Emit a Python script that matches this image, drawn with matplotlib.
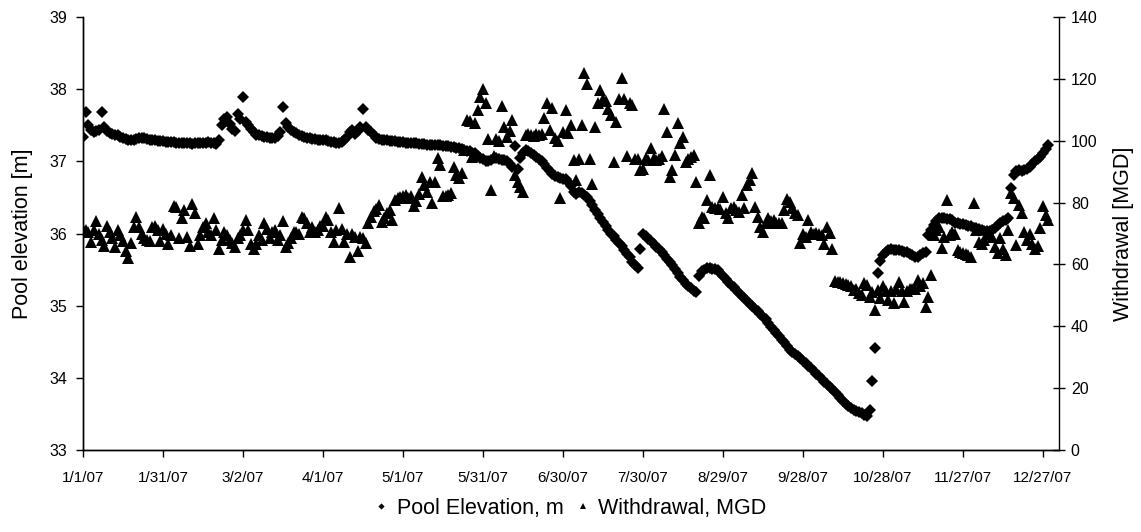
import numpy as np
import pandas as pd
import matplotlib
matplotlib.use("Agg")
from matplotlib import pyplot as plt

plt.rcParams['font.family'] = ['Liberation Sans', 'DejaVu Sans']

START = "2007-01-01"

# daily pool elevation, m (one row = 15 days)
pool_elev = [
    37.34, 37.69, 37.50, 37.44, 37.41, 37.42, 37.43, 37.69, 37.48, 37.42, 37.39, 37.38, 37.37, 37.36, 37.34,
    37.32, 37.31, 37.30, 37.30, 37.30, 37.31, 37.32, 37.33, 37.32, 37.31, 37.30, 37.30, 37.29, 37.28, 37.28,
    37.28, 37.27, 37.27, 37.27, 37.27, 37.26, 37.26, 37.26, 37.26, 37.25, 37.25, 37.24, 37.25, 37.26, 37.26,
    37.26, 37.26, 37.27, 37.26, 37.25, 37.24, 37.30, 37.50, 37.58, 37.62, 37.52, 37.45, 37.42, 37.66, 37.58,
    37.89, 37.55, 37.50, 37.45, 37.40, 37.37, 37.36, 37.35, 37.34, 37.34, 37.33, 37.33, 37.32, 37.35, 37.40,
    37.76, 37.53, 37.48, 37.44, 37.41, 37.39, 37.37, 37.35, 37.34, 37.33, 37.32, 37.31, 37.31, 37.30, 37.30,
    37.29, 37.29, 37.28, 37.27, 37.27, 37.26, 37.26, 37.27, 37.30, 37.34, 37.40, 37.44, 37.38, 37.42, 37.47,
    37.73, 37.48, 37.44, 37.40, 37.36, 37.33, 37.31, 37.30, 37.29, 37.29, 37.28, 37.28, 37.28, 37.27, 37.27,
    37.27, 37.26, 37.26, 37.25, 37.25, 37.25, 37.24, 37.24, 37.24, 37.23, 37.23, 37.23, 37.22, 37.22, 37.22,
    37.21, 37.21, 37.21, 37.20, 37.20, 37.19, 37.18, 37.17, 37.16, 37.15, 37.14, 37.12, 37.11, 37.08, 37.05,
    37.03, 37.01, 37.00, 37.02, 37.04, 37.04, 37.03, 37.02, 37.02, 37.00, 36.97, 36.92, 37.21, 36.90, 37.05,
    37.12, 37.16, 37.15, 37.12, 37.09, 37.06, 37.03, 37.00, 36.96, 36.91, 36.87, 36.83, 36.80, 36.78, 36.77,
    36.76, 36.75, 36.72, 36.66, 36.58, 36.55, 36.57, 36.56, 36.53, 36.50, 36.45, 36.39, 36.33, 36.27, 36.22,
    36.16, 36.10, 36.05, 36.00, 35.96, 35.91, 35.87, 35.83, 35.77, 35.72, 35.67, 35.61, 35.56, 35.52, 35.78,
    35.99, 35.97, 35.93, 35.90, 35.86, 35.82, 35.78, 35.74, 35.70, 35.65, 35.60, 35.56, 35.51, 35.45, 35.40,
    35.36, 35.30, 35.27, 35.24, 35.21, 35.19, 35.41, 35.48, 35.50, 35.52, 35.52, 35.51, 35.51, 35.50, 35.45,
    35.41, 35.37, 35.33, 35.29, 35.26, 35.22, 35.18, 35.14, 35.11, 35.07, 35.03, 35.00, 34.96, 34.92, 34.88,
    34.85, 34.81, 34.76, 34.71, 34.67, 34.62, 34.58, 34.53, 34.49, 34.44, 34.39, 34.36, 34.33, 34.30, 34.27,
    34.24, 34.21, 34.17, 34.14, 34.10, 34.06, 34.02, 33.98, 33.94, 33.91, 33.88, 33.84, 33.80, 33.76, 33.72,
    33.68, 33.64, 33.61, 33.58, 33.56, 33.54, 33.52, 33.51, 33.49, 33.47, 33.55, 33.95, 34.42, 35.45, 35.62,
    35.70, 35.74, 35.77, 35.78, 35.77, 35.77, 35.77, 35.76, 35.75, 35.74, 35.72, 35.70, 35.68, 35.67, 35.70,
    35.73, 35.74, 35.98, 36.05, 36.12, 36.17, 36.21, 36.22, 36.21, 36.20, 36.20, 36.19, 36.15, 36.14, 36.13,
    36.13, 36.12, 36.11, 36.10, 36.08, 36.07, 36.06, 36.05, 36.04, 36.03, 36.03, 36.05, 36.08, 36.12, 36.15,
    36.17, 36.19, 36.21, 36.63, 36.81, 36.86, 36.88, 36.87, 36.88, 36.89, 36.92, 36.96, 37.00, 37.03, 37.06,
    37.12, 37.17, 37.23,
]

# daily withdrawal, MGD
withdrawal = [
    71.5, 71.0, 70.5, 67.3, 71.0, 74.0, 70.0, 68.0, 66.0, 72.5, 70.5, 68.5, 65.5, 71.0, 69.5,
    67.5, 64.5, 62.0, 67.0, 72.0, 75.5, 72.0, 70.0, 68.5, 68.0, 67.5, 72.0, 72.5, 71.0, 67.5,
    71.5, 70.0, 66.5, 69.5, 79.0, 78.5, 68.5, 75.0, 77.5, 69.0, 66.0, 79.5, 76.5, 66.5, 69.5,
    72.0, 73.5, 70.5, 69.5, 75.0, 71.0, 65.0, 68.0, 70.5, 69.5, 68.0, 67.0, 65.5, 68.5, 69.5,
    71.0, 74.5, 71.0, 66.5, 65.0, 66.5, 69.5, 68.0, 73.5, 71.5, 68.5, 70.5, 71.0, 68.0, 69.5,
    74.0, 65.5, 66.8, 68.5, 70.5, 70.5, 70.0, 75.5, 75.0, 73.5, 70.5, 72.0, 70.5, 71.0, 72.5,
    72.3, 75.4, 74.4, 70.6, 67.4, 71.0, 78.2, 71.6, 67.4, 70.0, 62.5, 70.0, 68.9, 64.5, 69.0,
    68.5, 66.8, 73.4, 75.4, 77.2, 78.0, 79.2, 73.8, 74.9, 76.5, 77.6, 74.4, 80.8, 81.5, 81.9,
    82.0, 82.5, 81.5, 82.0, 79.0, 80.5, 82.9, 88.4, 85.6, 83.4, 86.7, 79.9, 86.7, 94.3, 92.2,
    82.0, 82.0, 82.5, 83.0, 91.6, 88.9, 87.8, 89.5, 97.0, 106.7, 106.5, 94.8, 105.6, 109.9, 114.2,
    116.6, 112.1, 100.5, 84.0, 95.2, 100.5, 100.0, 111.2, 104.5, 101.2, 103.0, 106.8, 88.9, 86.7, 85.1,
    83.4, 102.0, 102.3, 102.0, 101.5, 102.3, 101.8, 102.3, 107.2, 112.1, 103.5, 110.5, 100.9, 100.0, 81.5,
    102.9, 109.8, 102.5, 105.1, 93.9, 87.3, 94.0, 105.1, 121.8, 118.5, 94.0, 85.9, 104.3, 112.3, 116.4,
    113.4, 113.0, 110.2, 108.3, 93.1, 106.2, 113.4, 120.2, 113.4, 95.2, 112.3, 111.5, 94.2, 94.2, 90.5,
    91.0, 94.5, 93.8, 97.6, 94.5, 93.8, 94.0, 95.0, 110.4, 102.9, 88.4, 90.5, 95.5, 105.6, 99.2,
    101.3, 93.1, 94.0, 94.8, 95.5, 86.6, 73.3, 75.4, 74.9, 80.8, 88.9, 78.5, 78.3, 78.2, 78.0,
    81.9, 76.5, 74.9, 78.2, 78.5, 77.5, 77.0, 82.4, 78.2, 85.7, 87.3, 89.7, 78.5, 75.2, 72.2,
    70.6, 73.3, 74.9, 74.0, 74.3, 73.5, 73.3, 73.3, 77.6, 81.3, 80.3, 78.2, 76.5, 76.0, 67.0,
    70.0, 69.0, 74.3, 70.6, 70.0, 70.2, 70.0, 69.5, 66.7, 72.2, 70.1, 65.0, 54.5, 54.3, 54.2,
    54.0, 53.8, 53.5, 53.0, 51.7, 52.0, 50.7, 50.2, 53.9, 53.5, 49.4, 51.0, 45.3, 51.7, 49.1,
    53.0, 51.5, 48.5, 51.3, 47.4, 52.0, 54.4, 51.3, 48.0, 51.5, 52.0, 52.2, 52.2, 55.1, 53.0,
    54.0, 46.3, 49.5, 56.6, 69.5, 71.0, 72.0, 65.2, 69.0, 81.0, 69.5, 70.5, 70.0, 64.6, 64.0,
    63.8, 63.5, 63.0, 62.5, 80.0, 71.0, 67.3, 66.5, 68.0, 70.0, 70.0, 69.0, 65.5, 63.6, 68.5,
    65.0, 63.2, 71.0, 83.0, 81.5, 66.3, 79.2, 76.5, 70.5, 68.0, 70.0, 66.5, 64.9, 66.0, 71.9,
    78.9, 76.0, 74.4,
]

elev_ticks = [33, 34, 35, 36, 37, 38, 39]
flow_ticks = [0, 20, 40, 60, 80, 100, 120, 140]

start = pd.Timestamp(START)
days_e = pd.date_range(start, periods=len(pool_elev), freq="D")
days_w = pd.date_range(start, periods=len(withdrawal), freq="D")
xticks = pd.date_range(start, periods=13, freq="30D")
xlabels = [f"{t.month}/{t.day}/{t:%y}" for t in xticks]

fig = plt.figure(figsize=(11.41, 5.32), dpi=100)
ax = fig.add_axes([0.0727, 0.1541, 0.8554, 0.8139])
ax2 = ax.twinx()

h1, = ax.plot(days_e, pool_elev, linestyle='none', marker='D', ms=6.3, mew=0,
              color='black', label='Pool Elevation, m')
h2, = ax2.plot(days_w, withdrawal, linestyle='none', marker='^', ms=8, mew=0,
               color='black', label='Withdrawal, MGD')

ax.set_xlim(start, start + pd.Timedelta(days=366))
ax.set_ylim(33, 39)
ax2.set_ylim(0, 140)
ax.set_xticks(xticks)
ax.set_xticklabels(xlabels)
ax.set_yticks(elev_ticks)
ax2.set_yticks(flow_ticks)
ax.minorticks_off()
ax2.minorticks_off()

for a in (ax, ax2):
    a.spines['top'].set_visible(False)
    for s in a.spines.values():
        s.set_linewidth(1.0)
ax.spines['right'].set_visible(False)

ax.tick_params(axis='x', direction='out', length=5, width=1, labelsize=11, pad=10)
ax.tick_params(axis='y', direction='out', length=5, width=1, labelsize=11.5, pad=6)
ax2.tick_params(axis='y', direction='inout', length=9, width=1, labelsize=11.5, pad=4)

ax.set_ylabel("Pool elevation [m]", fontsize=15.5)
ax.yaxis.set_label_coords(-0.051, 0.5)
ax2.set_ylabel("Withdrawal [MGD]", fontsize=15.5)
ax2.yaxis.set_label_coords(1.055, 0.5)

fig.legend(handles=[h1, h2], loc='center', bbox_to_anchor=(0.5, 0.045), ncol=2,
           frameon=False, fontsize=15.5, markerscale=0.5, handlelength=0.6,
           handletextpad=0.4, columnspacing=0.6)

fig.savefig("out.png", dpi=100)
